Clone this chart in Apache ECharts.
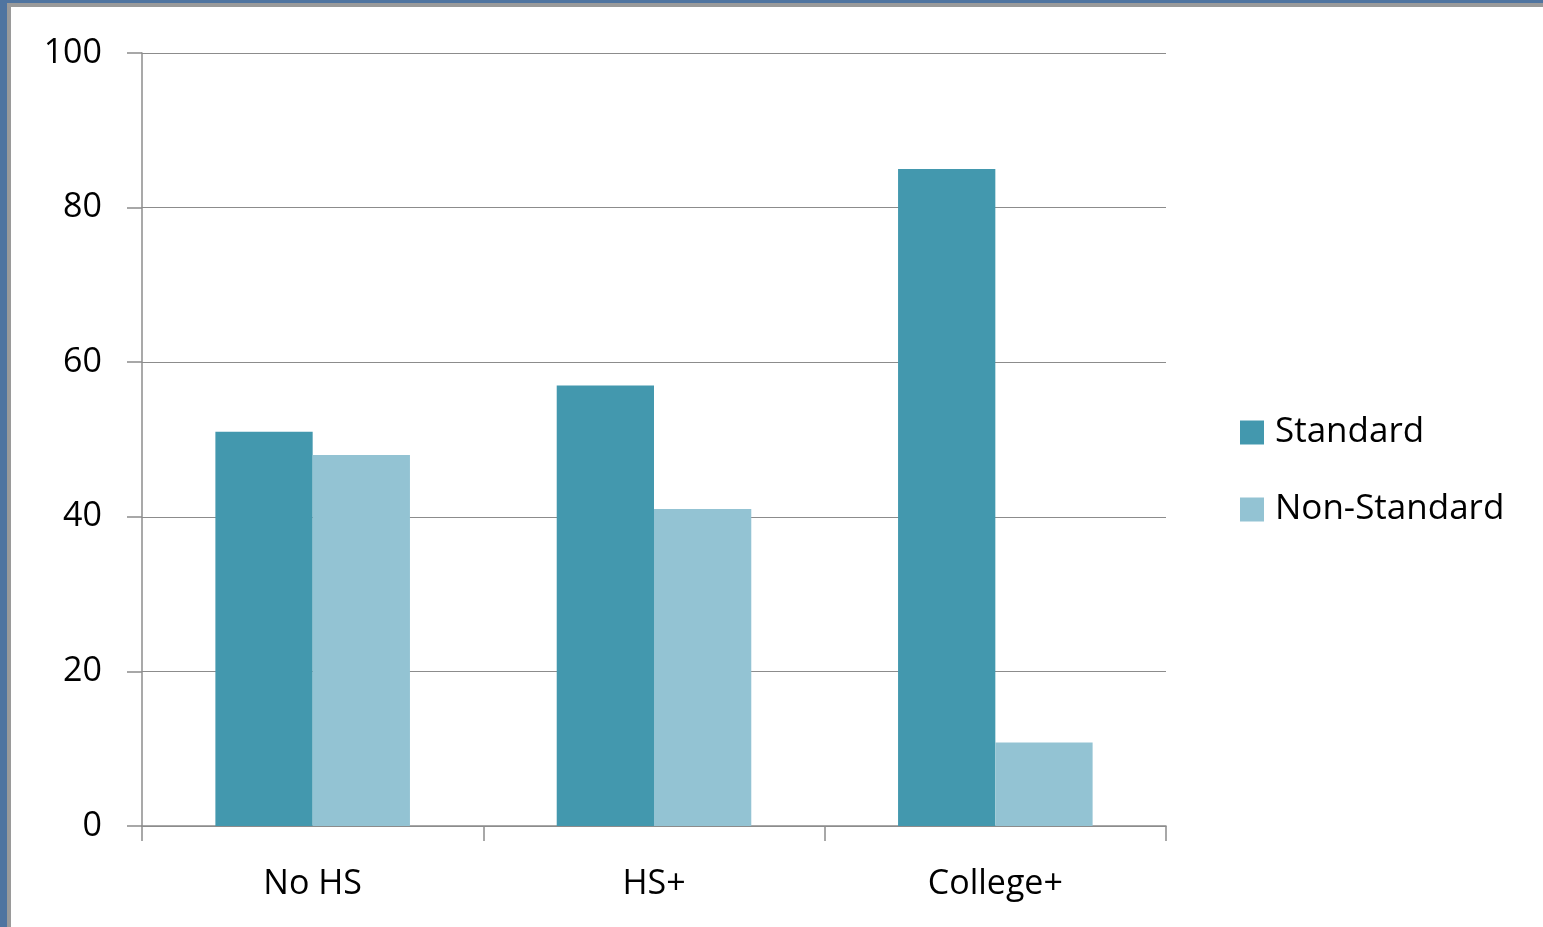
<!DOCTYPE html>
<html><head><meta charset="utf-8">
<script src="https://cdn.jsdelivr.net/npm/echarts@6/dist/echarts.min.js"></script>
<style>
html,body{margin:0;padding:0;width:1543px;height:927px;overflow:hidden;background:#4f74a0;}
#frame{position:absolute;left:7px;top:3px;width:1536px;height:924px;border-left:4px solid #9a9a9a;border-top:4px solid #9a9a9a;background:#fff;box-sizing:border-box;}
#chart{position:absolute;left:0;top:0;width:1532px;height:920px;}
</style></head>
<body><div id="frame"><div id="chart"></div></div>
<script>
const categories = ['No HS', 'HS+', 'College+'];
const standard = [51, 57, 85];
const nonStandard = [48, 41, 10.8];
const yTicks = [0, 20, 40, 60, 80, 100];

const chart = echarts.init(document.getElementById('chart'));
const font = 'Open Sans, Noto Sans, sans-serif';
chart.setOption({
  animation: false,
  textStyle: { fontFamily: font },
  grid: { left: 131, top: 46, width: 1024, height: 773, containLabel: false },
  legend: {
    orient: 'vertical', left: 1224, top: 403, itemWidth: 24, itemHeight: 24, itemGap: 42,
    icon: 'rect',
    textStyle: { fontSize: 35, color: '#000', fontFamily: font, padding: [0, 0, 0, 6] },
    data: ['Standard', 'Non-Standard']
  },
  xAxis: {
    type: 'category', data: categories,
    axisLine: { lineStyle: { color: '#8c8c8c', width: 1.5 } },
    axisTick: { show: true, length: 15, lineStyle: { color: '#8c8c8c', width: 1.5 } },
    axisLabel: { fontSize: 34, color: '#000', margin: 41 }
  },
  yAxis: {
    type: 'value', min: yTicks[0], max: yTicks[yTicks.length - 1], interval: 20,
    axisLine: { show: true, lineStyle: { color: '#8c8c8c', width: 1.5 } },
    axisTick: { show: true, length: 15, lineStyle: { color: '#8c8c8c', width: 1.5 } },
    splitLine: { lineStyle: { color: '#8c8c8c', width: 1.2 } },
    axisLabel: { fontSize: 34, color: '#000', margin: 40 }
  },
  series: [
    { name: 'Standard', type: 'bar', data: standard, barGap: '0%', barCategoryGap: '43%',
      itemStyle: { color: '#4398ae' } },
    { name: 'Non-Standard', type: 'bar', data: nonStandard, barGap: '0%', barCategoryGap: '43%',
      itemStyle: { color: '#93c3d3' } }
  ]
});
</script></body></html>
